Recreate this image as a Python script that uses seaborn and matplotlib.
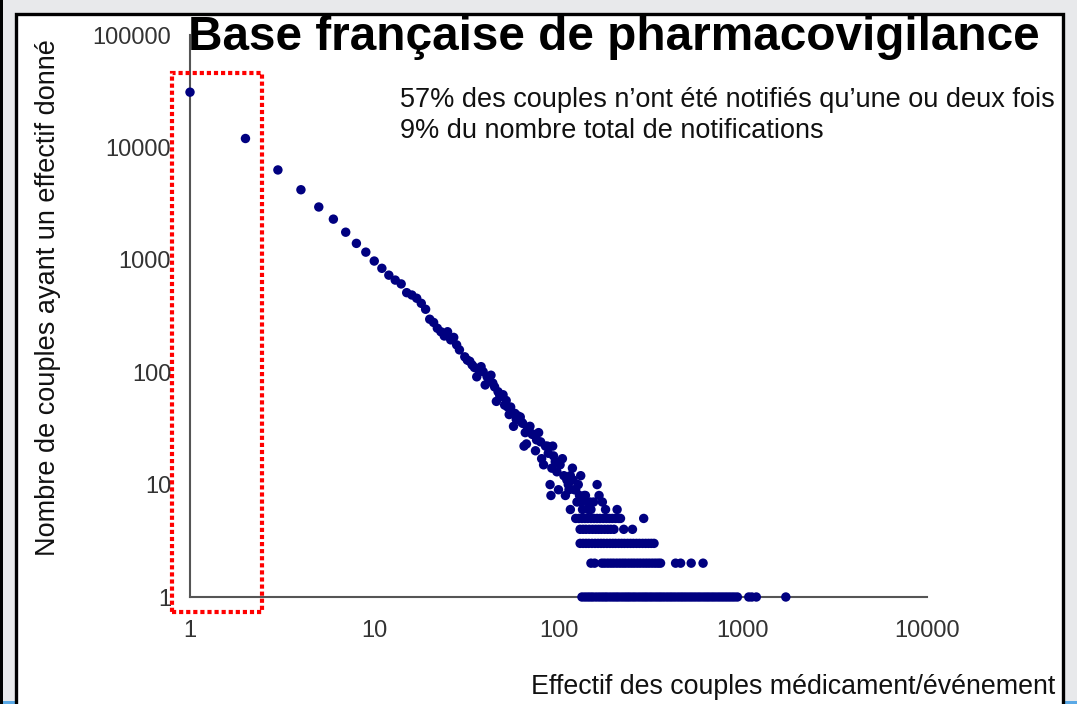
import matplotlib
matplotlib.use("Agg")
import matplotlib.pyplot as plt
import matplotlib.patches as patches
from matplotlib.ticker import NullLocator
import pandas as pd
import seaborn as sns

# effectif 1..28 : un point par effectif
eff_main = [1, 2, 3, 4, 5, 6, 7, 8, 9, 10, 11, 12, 13, 14,
            15, 16, 17, 18, 19, 20, 21, 22, 23, 24, 25, 26, 27, 28]
nb_main = [31000, 12000, 6300, 4200, 2950, 2300, 1760, 1400, 1170, 975,
           840, 730, 660, 610, 510, 486, 455, 410, 363, 296,
           277, 246, 229, 210, 229, 194, 204, 175]

# nuage (effectif ~30 a ~210, nombre >= 6)
eff_cloud = [29, 31, 32, 33, 34, 35, 36, 37, 38, 39, 40, 41, 42, 43, 44, 45,
             46, 47, 48, 49, 50, 51, 52, 53, 54, 55, 56, 57, 58, 59, 60, 62,
             63, 64, 65, 66, 67, 68, 69, 70, 72, 73, 75, 76, 78, 80, 81, 83,
             85, 87, 88, 90, 91, 92, 93, 94, 96, 98, 100, 102, 105, 107, 109,
             111, 113, 114, 116, 116, 119, 120, 122, 124, 126, 128, 130, 132,
             132, 135, 138, 140, 143, 145, 148, 150, 155, 162, 166, 173, 180, 208]
nb_cloud = [158, 137, 128, 125, 116, 110, 91, 104, 112, 101, 77, 91, 85, 94, 80, 74,
            55, 67, 62, 61, 63, 51, 56, 49, 42, 49, 43, 33, 43, 38, 41, 40,
            36, 35, 22, 29, 23, 31, 31, 33, 28, 28, 20, 25, 29, 24, 17, 15,
            22, 22, 19, 10, 8, 14, 22, 18, 16, 13, 9, 15, 17, 12, 8,
            11, 10, 9, 12, 6, 14, 11, 9, 9, 7, 10, 8, 12,
            7, 6, 8, 8, 7, 6, 7, 6, 7, 10, 8, 7, 6, 6]

# lignes des petits nombres (effectifs pour nombre = 5, 4, 3, 2, 1)
eff_n5 = [124, 129, 134, 139, 144, 150, 156, 162, 168, 175, 182, 189, 196, 204,
          212, 217, 290]
eff_n4 = [131, 136, 141, 147, 153, 159, 165, 171, 178, 185, 192, 200, 226, 252]
eff_n3 = [131, 136, 141, 146, 152, 158, 164, 170, 176, 183, 190, 197, 204, 212,
          220, 228, 237, 246, 255, 265, 275, 286, 297, 308, 319, 330]
eff_n2 = [150, 157, 172, 178, 185, 192, 199, 207, 215, 223, 231, 240, 249, 258,
          268, 278, 289, 300, 311, 323, 335, 347, 358, 432, 460, 525, 609]
eff_n1 = [134, 139, 144, 149, 154, 160, 166, 172, 178, 184, 191, 198, 205, 212,
          220, 228, 236, 244, 253, 262, 272, 282, 292, 302, 313, 324, 336, 348,
          360, 373, 387, 401, 415, 430, 446, 462, 478, 495, 513, 531, 550, 570,
          590, 612, 634, 656, 680, 704, 730, 756, 783, 811, 840, 870, 901, 935,
          1078, 1120, 1185, 1713]

xticks = [1, 10, 100, 1000, 10000]
yticks = [1, 10, 100, 1000, 10000, 100000]

rows = [pd.DataFrame({"effectif": eff_main, "nombre": nb_main}),
        pd.DataFrame({"effectif": eff_cloud, "nombre": nb_cloud})]
for n, effs in [(5, eff_n5), (4, eff_n4), (3, eff_n3), (2, eff_n2), (1, eff_n1)]:
    rows.append(pd.DataFrame({"effectif": effs, "nombre": [n] * len(effs)}))
df = pd.concat(rows, ignore_index=True)

sns.set_style("white")
plt.rcParams["font.family"] = ["Liberation Sans", "DejaVu Sans"]

W, H = 1077, 704
fig = plt.figure(figsize=(W / 100, H / 100), dpi=100, facecolor="#e8e9eb")

# cadre blanc de la diapositive
fig.patches.append(patches.Rectangle((0, 0), 3 / W, 1, transform=fig.transFigure,
                                     facecolor="black", edgecolor="none", zorder=-5))
fig.patches.append(patches.Rectangle((3 / W, 0), 1, 3 / H, transform=fig.transFigure,
                                     facecolor="#5aa9e6", edgecolor="none", zorder=-6))
fig.patches.append(patches.Rectangle((16 / W, -0.02), (1063 - 16) / W, 1 - 13.5 / H + 0.02,
                                     transform=fig.transFigure, facecolor="white",
                                     edgecolor="black", lw=2.4, zorder=-5))

ax = fig.add_axes([190 / W, 1 - 597 / H, (927 - 190) / W, (597 - 35) / H])
ax.set_facecolor("none")

sns.scatterplot(data=df, x="effectif", y="nombre", ax=ax, color="#000080",
                s=46, edgecolor="none", linewidth=0, zorder=3, clip_on=False)

ax.set_xscale("log")
ax.set_yscale("log")
ax.set_xlim(1, 10000)
ax.set_ylim(1, 100000)
ax.set_xticks(xticks)
ax.set_xticklabels([str(t) for t in xticks])
ax.set_yticks(yticks)
ax.set_yticklabels([str(t) for t in yticks])
ax.xaxis.set_minor_locator(NullLocator())
ax.yaxis.set_minor_locator(NullLocator())

for side in ["top", "right"]:
    ax.spines[side].set_visible(False)
for side in ["left", "bottom"]:
    ax.spines[side].set_color("#555555")
    ax.spines[side].set_linewidth(1.5)
ax.tick_params(axis="both", direction="out", length=5.5, width=1.5, color="#555555",
               labelsize=17, labelcolor="#333333")
ax.tick_params(axis="x", pad=11)
ax.tick_params(axis="y", pad=8)

ax.set_xlabel("Effectif des couples médicament/événement", fontsize=19.3, color="#111111",
              ha="right", va="baseline")
ax.xaxis.set_label_coords((1055 - 190) / (927 - 190), -(694 - 597) / (597 - 35))
ax.set_ylabel("Nombre de couples ayant un effectif donné", fontsize=19.5, color="#111111",
              va="center")
ax.yaxis.set_label_coords(-(190 - 48) / (927 - 190), (597 - 298) / (597 - 35))

ax.text(0.285, (597 - 107) / (597 - 35), "57% des couples n’ont été notifiés qu’une ou deux fois",
        transform=ax.transAxes, fontsize=19.5, color="#111111", va="baseline")
ax.text(0.285, (597 - 138) / (597 - 35), "9% du nombre total de notifications",
        transform=ax.transAxes, fontsize=19.5, color="#111111", va="baseline")

fig.text(614 / W, 1 - 50 / H, "Base française de pharmacovigilance", fontsize=34.4,
         fontweight="bold", ha="center", va="baseline", color="black", zorder=5)

# rectangle rouge en pointilles autour des effectifs 1 et 2
rect = patches.Rectangle((0.795, 0.743), 2.46 - 0.795, 45900 - 0.743, fill=False,
                         edgecolor="#ff0000", lw=3, linestyle=(0, (1, 0.7)),
                         clip_on=False, zorder=4)
ax.add_patch(rect)

fig.savefig("out.png", dpi=100, facecolor=fig.get_facecolor())
